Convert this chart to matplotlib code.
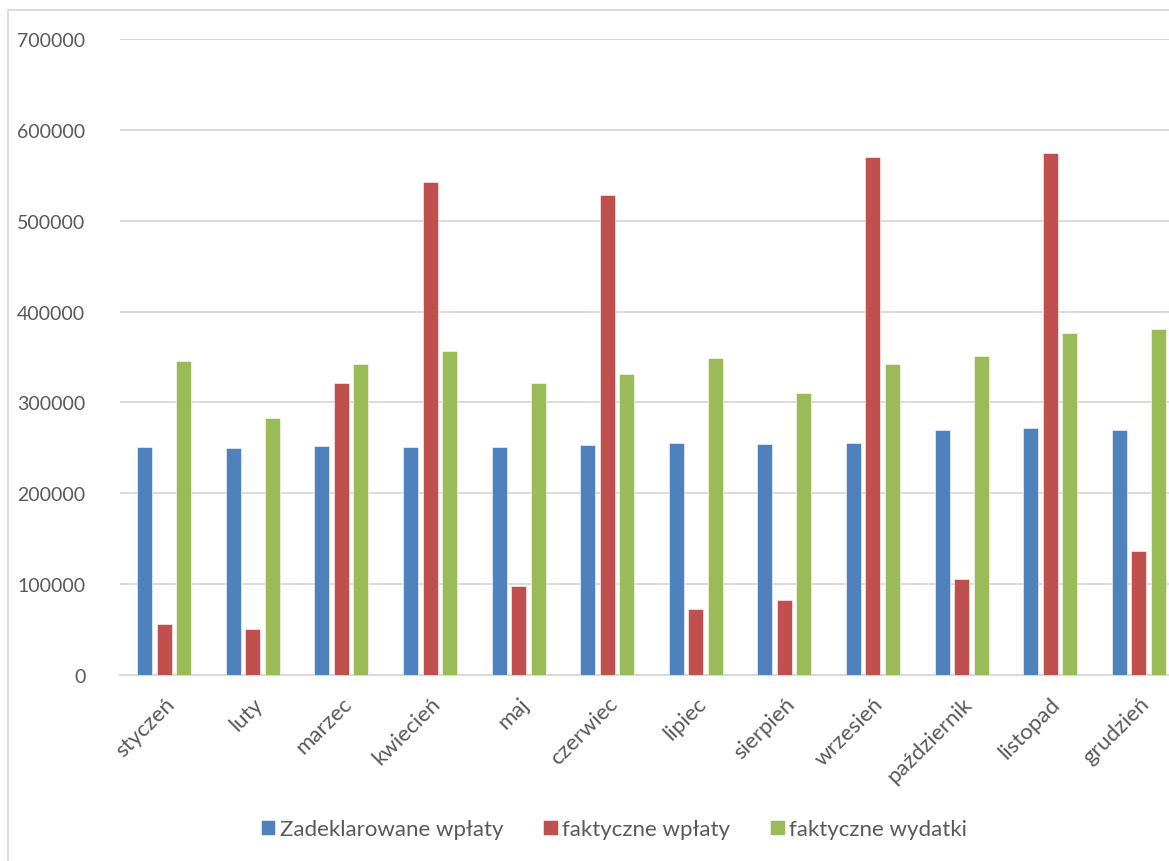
import numpy as np
import matplotlib
matplotlib.use("Agg")
import matplotlib.pyplot as plt
from matplotlib.patches import Rectangle

plt.rcParams['font.family'] = ['Lato', 'DejaVu Sans']

# --- data ---
months = ["styczeń", "luty", "marzec", "kwiecień", "maj", "czerwiec",
          "lipiec", "sierpień", "wrzesień", "październik", "listopad", "grudzień"]
declared = [250900, 249500, 252000, 251300, 250500, 253100,
            254900, 253800, 255700, 269600, 271400, 269200]
paid_in = [55700, 50900, 321200, 542500, 97500, 528800,
           72200, 82100, 570500, 105200, 575000, 136300]
spent = [345800, 282800, 341800, 356400, 320900, 331500,
         348400, 309900, 342500, 351300, 376200, 381300]
series_names = ["Zadeklarowane wpłaty", "faktyczne wpłaty", "faktyczne wydatki"]
colors = ["#4F81BD", "#C0504D", "#9BBB59"]
yticks = np.arange(0, 700001, 100000)

W, H = 1169, 862
fig = plt.figure(figsize=(W / 100, H / 100), dpi=100)

# plot area runs off the right edge, like the cropped original
ax = fig.add_axes([120 / W, 1 - 676 / H, 1063 / W, 636 / H])

x = np.arange(len(months))
offset = 0.22
width = 0.17
for i, (vals, name, col) in enumerate(zip([declared, paid_in, spent], series_names, colors)):
    ax.bar(x + (i - 1) * offset, vals, width, color=col, label=name,
           edgecolor="#ffffff", linewidth=0.4, zorder=3)

ax.set_xlim(-0.5, len(months) - 0.5)
ax.set_ylim(0, 700000)
ax.set_yticks(yticks)
ax.set_yticklabels([str(v) for v in yticks])
ax.yaxis.grid(True, color="#d9d9d9", linewidth=1.3, zorder=0)
ax.set_axisbelow(True)
for s in ["top", "right", "left"]:
    ax.spines[s].set_visible(False)
ax.spines["bottom"].set_color("#d9d9d9")
ax.spines["bottom"].set_linewidth(1.6)
ax.tick_params(axis="both", length=0, colors="#595959")
ax.tick_params(axis="y", labelsize=14, pad=25)

ax.set_xticks(x)
ax.set_xticklabels(months, rotation=45, ha="right", va="top",
                   rotation_mode="anchor")
ax.tick_params(axis="x", labelsize=16, pad=13)

# outer chart border (cut off at the right and bottom)
fig.patches.append(Rectangle((8 / W, -0.5), 2, 1 - 11 / H + 0.5,
                             transform=fig.transFigure, fill=False,
                             edgecolor="#d9d9d9", linewidth=1.3))

fig.legend(loc="center", bbox_to_anchor=(614 / W, 1 - 830 / H), ncol=3,
           frameon=False, fontsize=16, labelcolor="#595959",
           handlelength=0.65, handleheight=0.65, handletextpad=0.2,
           columnspacing=1.8)

fig.savefig("out.png", dpi=100)
